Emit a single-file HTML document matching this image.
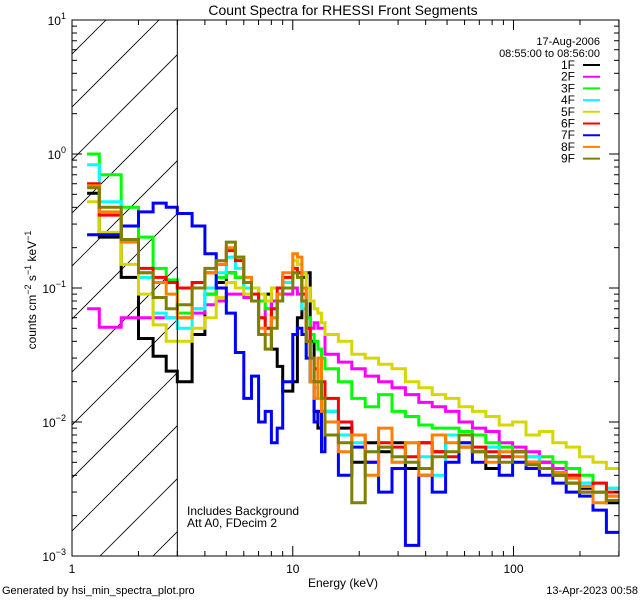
<!DOCTYPE html>
<html><head><meta charset="utf-8"><style>
html,body{margin:0;padding:0;background:#fff;}
svg{display:block;font-family:"Liberation Sans",sans-serif;}
</style></head><body>
<svg id="chart" width="640" height="600" viewBox="0 0 640 600" xmlns="http://www.w3.org/2000/svg">
<rect width="640" height="600" fill="#fff"/>
<defs><clipPath id="plotclip"><rect x="72" y="20" width="547" height="536"/></clipPath>
<clipPath id="hatchclip"><rect x="72" y="20" width="105" height="536"/></clipPath></defs>
<text x="343" y="15" font-size="14" text-anchor="middle">Count Spectra for RHESSI Front Segments</text>
<g id="hatch" clip-path="url(#hatchclip)"></g>
<g id="series" clip-path="url(#plotclip)"></g>
<rect x="72" y="20" width="547" height="536" fill="none" stroke="#000" stroke-width="1"/>
<g id="axes"></g>
<text x="343" y="587" font-size="12" text-anchor="middle">Energy (keV)</text>
<text transform="translate(36,290) rotate(-90)" font-size="12" text-anchor="middle">counts cm<tspan dy="-5" font-size="9">−2</tspan><tspan dy="5"> s</tspan><tspan dy="-5" font-size="9">−1</tspan><tspan dy="5"> keV</tspan><tspan dy="-5" font-size="9">−1</tspan></text>
<text x="187" y="515" font-size="12">Includes Background</text>
<text x="187" y="527" font-size="12">Att A0, FDecim 2</text>
<text x="2" y="594" font-size="11">Generated by hsi_min_spectra_plot.pro</text>
<text x="638" y="594" font-size="11" text-anchor="end">13-Apr-2023 00:58</text>
<text x="600" y="45" font-size="11" text-anchor="end">17-Aug-2006</text>
<text x="600" y="57" font-size="11" text-anchor="end">08:55:00 to 08:56:00</text>
<g id="legend"></g>
</svg>
<script>
// Data
const labels = ["1F","2F","3F","4F","5F","6F","7F","8F","9F"];
const colors = ["#000000","#ff00ff","#00ff00","#00ffff","#d7d700","#ff0000","#0000ff","#ff8000","#808000"];
const lowEdges = [1.17,1.33,1.67,2,2.33,2.67,3];
const s1F = [0.51,0.24,0.12,0.042,0.031,0.024, 0.02,0.045,0.09,0.11,0.13,0.12,0.1,0.1,0.08,0.09,0.035,0.026,0.017,0.017,0.02,0.06,0.12,0.13,0.04,0.012,0.009,0.012, 0.012,0.009,0.005,0.007,0.006,0.007,0.0045,0.007,0.006,0.008,0.0065,0.006,0.0045,0.0055,0.006,0.0045,0.005,0.004,0.0035,0.0032,0.003,0.0025];
const s2F = [0.07,0.051,0.06,0.06,0.06,0.06, 0.06,0.065,0.075,0.08,0.09,0.09,0.085,0.08,0.06,0.07,0.08,0.09,0.09,0.09,0.1,0.09,0.08,0.06,0.05,0.055,0.05,0.05, 0.032,0.028,0.025,0.022,0.02,0.018,0.016,0.014,0.013,0.012,0.01,0.009,0.0085,0.007,0.0065,0.006,0.005,0.0045,0.004,0.0035,0.003,0.0028];
const s3F = [1.0,0.70,0.40,0.24,0.14,0.115, 0.065,0.07,0.09,0.12,0.13,0.12,0.1,0.1,0.08,0.07,0.07,0.09,0.11,0.11,0.14,0.13,0.1,0.06,0.045,0.04,0.035,0.03, 0.025,0.02,0.015,0.013,0.016,0.012,0.011,0.0095,0.009,0.009,0.0085,0.008,0.007,0.0065,0.006,0.0055,0.0055,0.005,0.0045,0.004,0.0035,0.0032];
const s4F = [0.83,0.44,0.23,0.12,0.065,0.06, 0.05,0.07,0.1,0.13,0.17,0.14,0.1,0.08,0.06,0.05,0.06,0.08,0.11,0.11,0.14,0.13,0.07,0.03,0.02,0.018,0.015,0.012, 0.012,0.008,0.007,0.006,0.0065,0.005,0.007,0.0055,0.004,0.008,0.007,0.006,0.0065,0.0055,0.005,0.0055,0.0045,0.004,0.004,0.0035,0.003,0.0032];
const s5F = [0.44,0.26,0.15,0.09,0.053,0.04, 0.04,0.05,0.06,0.085,0.11,0.1,0.09,0.1,0.09,0.08,0.1,0.1,0.12,0.12,0.16,0.15,0.13,0.1,0.08,0.07,0.065,0.055, 0.045,0.04,0.032,0.03,0.027,0.025,0.02,0.018,0.016,0.015,0.013,0.012,0.011,0.0095,0.01,0.008,0.0085,0.007,0.0065,0.0055,0.005,0.0045];
const s6F = [0.6,0.35,0.23,0.14,0.12,0.11, 0.1,0.11,0.13,0.15,0.19,0.16,0.11,0.09,0.06,0.05,0.07,0.1,0.12,0.12,0.14,0.13,0.09,0.05,0.03,0.025,0.02,0.02, 0.015,0.01,0.008,0.005,0.007,0.0065,0.0055,0.007,0.006,0.0055,0.008,0.0065,0.006,0.0055,0.006,0.005,0.0045,0.004,0.004,0.003,0.0035,0.003];
const s7F = [0.25,0.25,0.29,0.37,0.43,0.40, 0.36,0.29,0.18,0.1,0.065,0.033,0.015,0.022,0.01,0.012,0.007,0.009,0.02,0.02,0.045,0.05,0.045,0.03,0.02,0.01,0.012,0.006, 0.008,0.004,0.0065,0.005,0.003,0.0045,0.0012,0.004,0.003,0.005,0.007,0.005,0.0055,0.004,0.005,0.0045,0.004,0.0035,0.003,0.0028,0.0022,0.0015];
const s8F = [0.58,0.37,0.22,0.13,0.11,0.09, 0.06,0.1,0.13,0.15,0.2,0.17,0.12,0.08,0.05,0.045,0.06,0.09,0.13,0.13,0.18,0.17,0.1,0.04,0.02,0.015,0.03,0.012, 0.01,0.006,0.008,0.004,0.009,0.005,0.007,0.004,0.008,0.007,0.0065,0.006,0.005,0.006,0.0055,0.005,0.0045,0.0042,0.0038,0.0033,0.0025,0.0028];
const s9F = [0.56,0.40,0.23,0.13,0.085,0.07, 0.075,0.1,0.14,0.16,0.22,0.17,0.11,0.08,0.045,0.035,0.05,0.08,0.1,0.1,0.13,0.12,0.08,0.04,0.03,0.02,0.02,0.015, 0.008,0.007,0.0025,0.006,0.0065,0.0055,0.005,0.0045,0.0055,0.006,0.008,0.006,0.0055,0.005,0.006,0.0048,0.0045,0.004,0.0035,0.003,0.003,0.0026];
const seriesList = [s1F,s2F,s3F,s4F,s5F,s6F,s7F,s8F,s9F];
const xTickLabels = ["1","10","100"];
const yTickExps = ["-3","-2","-1","0","1"];

// Bin edges
const edges = lowEdges.slice();
for (let i = 1; i <= 22; i++) edges.push(3 + 0.5 * i);
for (let i = 1; i <= 22; i++) edges.push(14 * Math.pow(1.15, i));

// Axis functions
const X0 = 72, X1 = 619, Y0 = 556, Y1 = 20;
const xMin = 0, xMax = Math.log10(300.5), yMin = -3, yMax = 1;
const xs = e => X0 + (Math.log10(e) - xMin) / (xMax - xMin) * (X1 - X0);
const ys = v => Y0 - (Math.log10(v) - yMin) / (yMax - yMin) * (Y0 - Y1);
const NS = "http://www.w3.org/2000/svg";
function mk(tag, attrs, parent) {
  const el = document.createElementNS(NS, tag);
  for (const k in attrs) el.setAttribute(k, attrs[k]);
  parent.appendChild(el);
  return el;
}

// Hatch
const hatch = document.getElementById("hatch");
for (let k = -12; k < 4; k++) {
  const bx = 100 + 53 * k;
  const ln = mk("line", {x1: bx, y1: Y0, x2: bx + 600, y2: Y0 - 600, stroke: "#000", "stroke-width": 0.8}, hatch);
  
  
}
const vl = mk("line", {x1: xs(3), y1: Y1, x2: xs(3), y2: Y0, stroke: "#000", "stroke-width": 1}, document.getElementById("chart"));



// Series
const sg = document.getElementById("series");
seriesList.forEach((vals, si) => {
  let d = "";
  vals.forEach((v, i) => {
    const xa = xs(edges[i]).toFixed(1), xb = xs(edges[i + 1]).toFixed(1), y = ys(v).toFixed(1);
    d += (i === 0 ? "M" : "L") + xa + "," + y + "L" + xb + "," + y;
  });
  const p = mk("path", {d: d, fill: "none", stroke: colors[si], "stroke-width": 3, "stroke-linejoin": "miter"}, sg);
  
  
});

// Axes ticks
const ax = document.getElementById("axes");
for (let dec = 0; dec <= 2; dec++) {
  for (let m = 1; m <= 9; m++) {
    const e = m * Math.pow(10, dec);
    if (e > 300.5) continue;
    const x = xs(e), len = m === 1 ? 10 : 5;
    const t1 = mk("line", {x1: x, y1: Y0, x2: x, y2: Y0 - len, stroke: "#000"}, ax);
    
    
    const t2 = mk("line", {x1: x, y1: Y1, x2: x, y2: Y1 + len, stroke: "#000"}, ax);
    
    
  }
}
xTickLabels.forEach((lab, i) => {
  const t = mk("text", {x: xs(Math.pow(10, i)), y: 573, "font-size": 12, "text-anchor": "middle"}, ax);
  t.textContent = lab;
  
  
});
for (let dec = -3; dec <= 1; dec++) {
  for (let m = 1; m <= 9; m++) {
    if (dec === 1 && m > 1) continue;
    const y = ys(m * Math.pow(10, dec)), len = m === 1 ? 10 : 5;
    const t1 = mk("line", {x1: X0, y1: y, x2: X0 + len, y2: y, stroke: "#000"}, ax);
    
    
    const t2 = mk("line", {x1: X1, y1: y, x2: X1 - len, y2: y, stroke: "#000"}, ax);
    
    
  }
}
yTickExps.forEach(ex => {
  const y = ys(Math.pow(10, +ex));
  const t = mk("text", {x: 66, y: y + 5, "font-size": 12, "text-anchor": "end"}, ax);
  t.innerHTML = '10<tspan dy="-6" font-size="9">' + (ex.startsWith("-") ? "−" + ex.slice(1) : ex) + '</tspan>';
  
  
});

// Legend
const lg = document.getElementById("legend");
labels.forEach((lab, i) => {
  const y = 65 + i * 11.7;
  const t = mk("text", {x: 575, y: y + 4, "font-size": 12, "text-anchor": "end"}, lg);
  t.textContent = lab;
  
  
  const l = mk("line", {x1: 583, y1: y, x2: 600, y2: y, stroke: colors[i], "stroke-width": 2}, lg);
  
  
});
</script>
</body></html>
